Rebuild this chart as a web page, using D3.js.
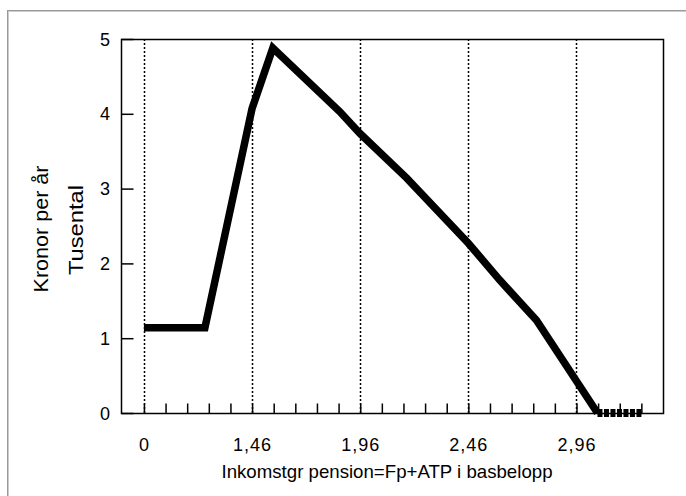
<!DOCTYPE html>
<html>
<head>
<meta charset="utf-8">
<script src="https://cdn.jsdelivr.net/npm/d3@7"></script>
<style>
  body { margin: 0; background: #fff; }
  svg text { font-family: "Liberation Sans", Arial, sans-serif; fill: #000; }
</style>
</head>
<body>
<svg id="chart"></svg>
<script>
var width = 686;
var height = 496;

// x positions are category steps (0.1 basbelopp), labelled as in the original
var xLabelIndex = [0, 5, 10, 15, 20];
var xLabels = ["0", "1,46", "1,96", "2,46", "2,96"];
var xTickIndex = d3.range(0, 24);
var yTicks = [0, 1, 2, 3, 4, 5];

// breakpoints of the curve (index, tusental kronor)
var curveX = [0, 2.82, 5.0, 5.96, 9.05, 9.98, 12.15, 15.0, 16.44, 18.15, 20.97];
var curveY = [1.14, 1.14, 4.07, 4.88, 4.03, 3.74, 3.14, 2.27, 1.78, 1.24, 0];
// tail lying on zero
var tailX = [20.97, 23.05];
var tailY = [0, 0];

var margin = {left: 121, right: 686 - 663, top: 39, bottom: 496 - 413};

var x = d3.scaleLinear().domain([-1.06, 24]).range([margin.left, width - margin.right]);
var y = d3.scaleLinear().domain([0, 5]).range([height - margin.bottom, margin.top]);

var svg = d3.select("#chart").attr("width", width).attr("height", height);

// outer frame
svg.append("rect")
  .attr("x", 7.5).attr("y", 10.5)
  .attr("width", width).attr("height", height)
  .attr("fill", "none").attr("stroke", "#999").attr("stroke-width", 1);
svg.append("rect")
  .attr("x", 8.5).attr("y", 11.5)
  .attr("width", width).attr("height", height)
  .attr("fill", "none").attr("stroke", "#ccc").attr("stroke-width", 1);

// dotted gridlines
svg.append("g").selectAll("line").data(xLabelIndex)
  .enter().append("line")
  .attr("x1", function(d){ return Math.round(x(d)) + 0.5; })
  .attr("x2", function(d){ return Math.round(x(d)) + 0.5; })
  .attr("y1", y(5)).attr("y2", y(0))
  .attr("stroke", "#000").attr("stroke-width", 1.5)
  .attr("stroke-dasharray", "2,2");

// plot box
svg.append("rect")
  .attr("x", x.range()[0] + 0.5).attr("y", y(5) + 0.5)
  .attr("width", x.range()[1] - x.range()[0]).attr("height", y(0) - y(5))
  .attr("fill", "none").attr("stroke", "#000").attr("stroke-width", 1.5);

// y axis: ticks inward
var yAxis = d3.axisRight(y).tickValues(yTicks).tickSize(12).tickFormat("");
var gy = svg.append("g").attr("transform", "translate(" + (x.range()[0] + 0.5) + ",0)").call(yAxis);
gy.select(".domain").remove();
gy.selectAll(".tick line").attr("stroke-width", 1.5);
svg.append("g").selectAll("text").data(yTicks)
  .enter().append("text")
  .attr("x", 110).attr("y", function(d){ return y(d) + 6.5; })
  .attr("text-anchor", "end").attr("font-size", 18)
  .text(function(d){ return d; });

// x axis: ticks upward
var xAxis = d3.axisTop(x).tickValues(xTickIndex).tickSize(10).tickFormat("");
var gx = svg.append("g").attr("transform", "translate(0," + (y(0) + 0.5) + ")").call(xAxis);
gx.select(".domain").remove();
gx.selectAll(".tick line").attr("stroke-width", 1.5);
svg.append("g").selectAll("text").data(xLabelIndex)
  .enter().append("text")
  .attr("x", function(d){ return x(d) + 0.5; })
  .attr("y", 451)
  .attr("text-anchor", "middle").attr("font-size", 18)
  .attr("letter-spacing", 1)
  .text(function(d, i){ return xLabels[i]; });

// titles
svg.append("text")
  .attr("x", 387).attr("y", 478)
  .attr("text-anchor", "middle").attr("font-size", 19)
  .attr("textLength", 331).attr("lengthAdjust", "spacingAndGlyphs")
  .text("Inkomstgr pension=Fp+ATP i basbelopp");
svg.append("text")
  .attr("transform", "translate(48,229) rotate(-90)")
  .attr("text-anchor", "middle").attr("font-size", 19.5)
  .attr("textLength", 127).attr("lengthAdjust", "spacingAndGlyphs")
  .text("Kronor per år");
svg.append("text")
  .attr("transform", "translate(83,230) rotate(-90)")
  .attr("text-anchor", "middle").attr("font-size", 19.5)
  .attr("textLength", 90).attr("lengthAdjust", "spacingAndGlyphs")
  .text("Tusental");

// the curve
var line = d3.line()
  .x(function(d){ return x(d[0]); })
  .y(function(d){ return y(d[1]); });

svg.append("path")
  .datum(d3.zip(curveX, curveY))
  .attr("d", line)
  .attr("fill", "none").attr("stroke", "#000")
  .attr("stroke-width", 7.5).attr("stroke-linejoin", "miter").attr("stroke-linecap", "butt");

svg.append("path")
  .datum(d3.zip(tailX, tailY))
  .attr("d", line)
  .attr("fill", "none").attr("stroke", "#000")
  .attr("stroke-width", 8).attr("stroke-dasharray", "5,1.5");
</script>
</body>
</html>
